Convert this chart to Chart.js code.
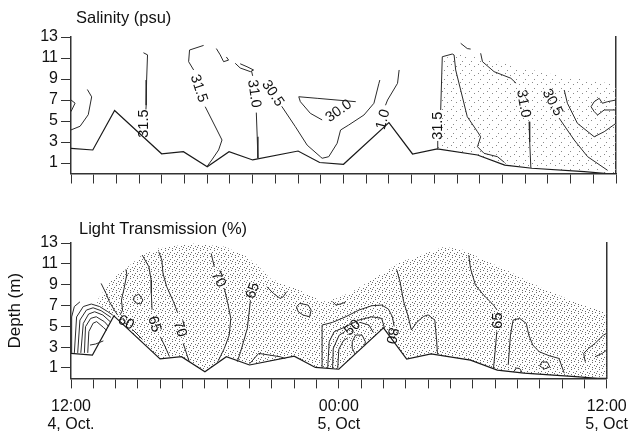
<!DOCTYPE html>
<html>
<head>
<meta charset="utf-8">
<script src="https://cdn.jsdelivr.net/npm/chart.js@4.4.1/dist/chart.umd.min.js"></script>
<style>
html, body { margin: 0; padding: 0; background: #fff; }
#wrap { position: relative; width: 637px; height: 439px; }
canvas { position: absolute; left: 0; }
#salinity { top: 0; }
#light { top: 200px; }
</style>
</head>
<body>
<div id="wrap">
  <canvas id="salinity" width="637" height="190"></canvas>
  <canvas id="light" width="637" height="239"></canvas>
</div>
<script>
"use strict";
const FONT = '"Liberation Sans", Arial, Helvetica, sans-serif';

// sea bed under the section (hours after 12:00 4 Oct, depth m)
const bedHours = [0, 0.96, 1.92, 3.99, 4.95, 6.0, 6.96, 8.0, 10.0, 10.95, 12.0, 14.0, 15.04, 16.13, 17.9, 19.1, 20.3, 22.6, 23.6, 24];
const bedDepth = [2.4, 2.24, 6.0, 1.88, 2.08, 0.64, 2.08, 1.29, 2.14, 1.05, 0.88, 4.85, 1.86, 2.35, 1.76, 0.8, 0.5, 0.17, 0.0, 0.0];

const depthTicks = [1, 3, 5, 7, 9, 11, 13];
const timeTickHours = [0, 12, 24];
const timeTickText = [["12:00", "4, Oct."], ["00:00", "5, Oct"], ["12:00", "5, Oct"]];

// ---- salinity contours: [hour, depth], null = gap for the label
const salA = [[0, 7.0], [0.18, 6.7], [0, 5.9]];
const salB = [[0.72, 8.0], [0.91, 7.3], [0.76, 5.6], [0.4, 4.5], [0, 4.15]];
const sal315a = [[3.19, 11.5], [3.37, 11.3], [3.33, 8.9], [3.31, 6.5], [3.3, 6.1], null, [3.15, 3.5]];
const sal315b = [[5.84, 12.2], [5.22, 11.76], [5.18, 10.65], [5.4, 9.86], null, [5.91, 6.36], [6.43, 4.14], [6.65, 3.19], [6.5, 2.24], [6.2, 1.29], [6.0, 0.7]];
const salHook1 = [[6.4, 11.9], [6.57, 11.3], [6.72, 10.65], [6.94, 10.8], [6.84, 11.1]];
const salHook2 = [[7.23, 10.5], [7.45, 10.05], [7.9, 9.7], [8.04, 9.86], [7.75, 10.17], [7.45, 10.45]];
const sal31a = [[7.95, 9.75], [8.0, 9.3], null, [8.16, 5.8], [8.2, 3.5], [8.23, 1.45]];
const sal305a = [[9.28, 6.4], [9.88, 4.46], [10.4, 2.7], [10.98, 1.6], [11.06, 1.45], [11.35, 1.6], [11.72, 2.88], [11.87, 4.14], [12.23, 4.62], [12.9, 5.57], [13.34, 6.69], [13.56, 8.59], [13.6, 8.9]];
const sal30 = [[11.06, 5.1], [10.54, 5.73], [10.1, 6.84], [10.03, 7.31], [10.84, 7.16], [12.54, 6.84]];
const sal1 = [[14.45, 9.86], [14.38, 8.59], [13.94, 7.0], [13.85, 6.5]];
const sal315c = [[16.13, 2.4], [16.15, 3.1], null, [16.28, 6.05], [16.35, 11.12], [16.79, 11.38], [16.87, 11.29], [16.94, 9.86], [17.16, 7.95], [17.45, 5.41], [17.9, 3.98], [18.04, 3.5], [17.9, 2.55], [18.19, 1.92], [18.78, 1.6], [19.09, 1.05]];
const salHook3 = [[17.16, 12.4], [17.45, 11.9], [17.6, 11.85]];
const sal31b = [[18.04, 11.45], [18.12, 10.65], [18.63, 9.7], [19.37, 9.07], [19.6, 8.6], null, [20.17, 4.93], [20.2, 3.0], [20.25, 0.55]];
const sal305b = [[20.69, 8.75], null, [21.5, 5.26], [22.16, 3.19], [22.75, 1.6], [23.63, 0.3]];
const salR1 = [[21.72, 7.95], [21.86, 6.69], [22.3, 4.78], [23.04, 3.5], [23.48, 3.98], [24, 4.78]];
const salR2 = [[24, 7.0], [23.63, 6.84], [23.4, 6.69], [23.26, 7.16], [23.04, 6.84], [22.9, 6.36], [23.04, 5.9], [23.19, 5.57], [23.48, 6.05], [24, 6.05]];
const salLines = [salA, salB, sal315a, sal315b, salHook1, salHook2, sal31a, sal305a, sal30, sal1, sal315c, salHook3, sal31b, sal305b, salR1, salR2];
const salLabels = [
  { text: "31.5", x: 3.22, y: 4.75, rot: -90 },
  { text: "31.5", x: 5.62, y: 8.1, rot: 72 },
  { text: "31.0", x: 8.06, y: 7.6, rot: 82 },
  { text: "30.5", x: 8.88, y: 7.63, rot: 56 },
  { text: "30.0", x: 11.79, y: 5.95, rot: -35 },
  { text: "1.0", x: 13.75, y: 5.15, rot: -75 },
  { text: "31.5", x: 16.16, y: 4.55, rot: -90 },
  { text: "31.0", x: 19.92, y: 6.65, rot: 80 },
  { text: "30.5", x: 21.2, y: 6.75, rot: 62 }
];
// stippled area: top edge, closed back along the sea bed from salShadeFrom
const salShadeHours = [16.3, 16.4, 17.2, 18.5, 20, 21.5, 23, 24];
const salShadeDepth = [6.0, 11.0, 11.3, 10.8, 10.0, 9.3, 8.8, 8.5];
const salShadeFrom = 16.13;

// ---- light transmission contours
const ltC1 = [[0.03, 2.45], [0.03, 5.9], [0.15, 6.9], [0.4, 7.35]];
const ltC2 = [[0.15, 2.45], [0.25, 5.9], [0.55, 6.9], [0.91, 7.14], [1.28, 6.9], [1.65, 6.4], [1.87, 6.08]];
const ltC3 = [[0.3, 2.45], [0.4, 5.6], [0.69, 6.56], [0.99, 6.78], [1.35, 6.5], [1.79, 5.86]];
const ltC4 = [[0.44, 2.45], [0.55, 5.28], [0.79, 6.18], [1.06, 6.4], [1.43, 6.08], [1.76, 5.44]];
const ltC5 = [[0.6, 2.45], [0.65, 4.96], [0.88, 5.76], [1.13, 5.92], [1.5, 5.44], [1.68, 5.0]];
const ltC6 = [[0.75, 2.45], [0.8, 4.5], [0.99, 5.3], [1.15, 5.45], [1.45, 4.9], [1.6, 4.6]];
const ltC7 = [[0.85, 3.2], [1.1, 3.3], [1.45, 3.6]];
const lt60a = [[1.35, 9.12], [1.57, 8.16], [1.72, 7.36], [1.94, 6.56], [2.09, 6.08]];
const lt60 = [[2.46, 10.47], [2.5, 10.0], [2.38, 8.64], [2.26, 7.52], [2.31, 6.56], [2.2, 6.1], null, [2.75, 4.7], [3.2, 3.75]];
const lt65a = [[3.19, 11.84], [3.49, 10.72], [3.59, 9.44], [3.6, 8.16], [3.63, 6.6], null, [4.0, 4.0], [4.22, 3.04], [4.41, 2.1]];
const lt70a = [[3.93, 12.16], [4.07, 11.36], [4.12, 10.08], [4.29, 8.8], [4.59, 7.36], [4.78, 6.3], null, [5.03, 3.36], [5.2, 2.24], [5.3, 1.6]];
const ltLoop1 = [[2.82, 7.84], [3.04, 8.1], [3.22, 7.52], [3.12, 7.14], [2.9, 7.26], [2.78, 7.58], [2.82, 7.84]];
const lt70b = [[6.28, 12.0], [6.35, 11.36], [6.42, 10.7], null, [6.87, 8.64], [7.01, 7.36], [7.16, 5.76], [7.09, 4.16], [6.87, 2.88], [6.6, 1.7]];
const lt65b = [[8.04, 7.5], [7.9, 4.8], [7.6, 2.57], [7.45, 1.6]];
const ltBump = [[8.0, 1.4], [8.41, 2.4], [9.37, 2.08], [9.6, 1.9]];
const ltHook4 = [[8.78, 8.8], [9.07, 8.16], [9.37, 7.68], [9.51, 7.84], [9.66, 8.32]];
const ltLoop2 = [[10.1, 6.88], [10.25, 7.2], [10.62, 7.04], [10.76, 6.56], [10.69, 5.92], [10.4, 6.08], [10.18, 6.4], [10.1, 6.88]];
const ltHook5 = [[11.72, 7.36], [11.87, 7.04], [12.17, 7.2], [12.31, 7.36]];
const lt80 = [[11.25, 1.0], [11.25, 5.12], [11.72, 5.38], [12.31, 5.92], [12.9, 6.56], [13.48, 6.98], [13.92, 7.04], [14.22, 6.66], [14.4, 5.92], [14.48, 5.0]];
const ltN2 = [[11.5, 0.95], [11.57, 3.52], [11.79, 4.48], [12.31, 4.96], [12.9, 5.6], [13.48, 5.92], [13.92, 5.76], [14.05, 4.8]];
const lt50 = [[11.72, 0.95], [11.75, 2.88], [12.02, 4.16], [12.25, 4.45], null, [12.95, 5.38], [13.35, 5.12], [13.55, 4.4]];
const ltN4 = [[11.95, 0.95], [12.0, 2.8], [12.2, 3.6], [12.4, 3.9]];
const ltU = [[12.7, 2.45], [12.6, 2.9], [12.6, 3.52], [12.75, 4.16], [13.04, 4.16], [13.19, 3.52], [13.15, 3.1]];
const ltMid = [[14.6, 10.4], [14.75, 9.2], [14.9, 7.4], [15.1, 6.0], [15.25, 4.65], [15.5, 5.4], [15.8, 5.95], [16.0, 6.1], [16.3, 5.6], [16.38, 3.7], [16.42, 2.35]];
const lt65c = [[17.82, 11.84], [17.9, 10.56], [18.12, 8.96], [18.49, 8.0], [18.93, 7.04], [19.08, 6.6], null, [19.08, 4.5], [19.0, 2.56], [18.93, 1.0]];
const ltR1 = [[19.59, 1.3], [19.69, 4.16], [19.81, 5.6], [20.1, 5.76], [20.4, 5.28], [20.51, 4.16], [20.69, 3.2], [20.98, 2.56], [21.42, 2.18], [21.86, 1.92], [22.0, 1.1], [22.1, 0.5]];
const ltLoop3 = [[21.0, 1.2], [21.1, 1.6], [21.35, 1.55], [21.45, 1.1], [21.2, 0.9], [21.0, 1.2]];
const ltBump2 = [[19.85, 0.68], [19.95, 1.0], [20.1, 0.95], [20.2, 0.62]];
const ltR2 = [[23.04, 1.6], [22.97, 2.4], [23.19, 2.88], [23.48, 3.36], [23.85, 4.16], [24, 4.32]];
const ltR3 = [[23.48, 2.08], [23.8, 2.4], [24, 2.72]];
const ltLines = [ltC1, ltC2, ltC3, ltC4, ltC5, ltC6, ltC7, lt60a, lt60, lt65a, lt70a, ltLoop1, lt70b, lt65b, ltBump, ltHook4, ltLoop2, ltHook5, lt80, ltN2, lt50, ltN4, ltU, ltMid, lt65c, ltR1, ltLoop3, ltBump2, ltR2, ltR3];
const ltLabels = [
  { text: "60", x: 2.46, y: 5.35, rot: 28 },
  { text: "65", x: 3.73, y: 5.2, rot: 75 },
  { text: "70", x: 4.88, y: 4.75, rot: 72 },
  { text: "70", x: 6.6, y: 9.5, rot: 62 },
  { text: "65", x: 8.15, y: 8.42, rot: -72 },
  { text: "50", x: 12.62, y: 4.85, rot: -42 },
  { text: "80", x: 14.37, y: 4.1, rot: 100 },
  { text: "65", x: 19.15, y: 5.55, rot: -90 }
];
const ltShadeHours = [1.13, 1.87, 2.46, 3.19, 3.92, 5.4, 6.87, 7.75, 8.34, 8.93, 10.39, 11.28, 11.87, 12.6, 13.34, 14.07, 14.8, 15.69, 16.72, 17.6, 18.49, 19.37, 20.25, 21.13, 22.0, 22.9, 24];
const ltShadeDepth = [7.36, 9.6, 10.56, 11.84, 12.48, 12.96, 12.64, 11.84, 10.88, 9.6, 8.32, 7.36, 7.68, 8.32, 9.28, 10.24, 11.2, 11.84, 12.64, 12.32, 11.36, 10.56, 9.6, 8.64, 7.84, 7.04, 6.3];
const ltShadeFrom = 1.92;

// stipple tiles for the shaded areas
function stipple(size, dots, color) {
  const c = document.createElement("canvas");
  c.width = size; c.height = size;
  const g = c.getContext("2d");
  g.fillStyle = color;
  dots.forEach(d => g.fillRect(d[0], d[1], 1, 1));
  return g.createPattern(c, "repeat");
}
const densePattern = stipple(7, [[0, 0], [4, 1], [2, 3], [6, 4], [1, 5], [4, 6]], "#6a6a6a");
const lightPattern = stipple(9, [[1, 1], [6, 3], [3, 7]], "#8a8a8a");

function toPoints(line) {
  return line.map((p, i) => p ? { x: p[0], y: p[1] } : { x: line[i - 1][0], y: null });
}

function shadePoints(hours, depth, fromHour) {
  const pts = hours.map((h, i) => ({ x: h, y: depth[i] }));
  for (let i = bedHours.length - 1; i >= 0; i--) {
    if (bedHours[i] >= fromHour) pts.push({ x: bedHours[i], y: bedDepth[i] });
  }
  return pts;
}

const contourLabels = {
  id: "contourLabels",
  afterDatasetsDraw(chart, args, opts) {
    const { ctx, chartArea } = chart;
    const xs = chart.scales.x, ys = chart.scales.y;
    ctx.save();
    ctx.fillStyle = "#111";
    ctx.font = "14.5px " + FONT;
    ctx.textAlign = "center";
    ctx.textBaseline = "middle";
    opts.items.forEach(l => {
      ctx.save();
      ctx.translate(xs.getPixelForValue(l.x), ys.getPixelForValue(l.y));
      ctx.rotate(l.rot * Math.PI / 180);
      ctx.fillText(l.text, 0, 0);
      ctx.restore();
    });
    ctx.font = "16.5px " + FONT;
    ctx.textAlign = "left";
    ctx.textBaseline = "alphabetic";
    ctx.fillText(opts.title, chartArea.left + opts.dx, chartArea.top - opts.dy);
    ctx.restore();
  }
};

function buildDatasets(lines, shadeHours, shadeDepth, shadeFrom, pattern) {
  const sets = lines.map(l => ({
    data: toPoints(l), showLine: true, borderColor: "#2a2a2a", borderWidth: 1,
    pointRadius: 0, fill: false, yAxisID: "y", order: 1
  }));
  sets.push({
    data: bedHours.map((h, i) => ({ x: h, y: bedDepth[i] })), showLine: true,
    borderColor: "#1a1a1a", borderWidth: 1.2, pointRadius: 0, fill: false, yAxisID: "y", order: 1
  });
  sets.push({
    data: shadePoints(shadeHours, shadeDepth, shadeFrom), showLine: true, fill: "shape",
    backgroundColor: pattern, borderWidth: 0, borderColor: "rgba(0,0,0,0)",
    pointRadius: 0, yAxisID: "y", order: 5
  });
  return sets;
}

function buildScales(showTime, xHeight, yTitle) {
  return {
    x: {
      type: "linear", min: 0, max: 24, position: "bottom",
      grid: { drawOnChartArea: false, tickLength: 10, color: "#333", lineWidth: 1 },
      border: { color: "#333", width: 1.5 },
      ticks: {
        display: showTime, stepSize: 1, autoSkip: false, maxRotation: 0, padding: 9,
        color: "#111", font: { family: FONT, size: 16, lineHeight: 1.15 },
        callback: v => { const i = timeTickHours.indexOf(v); return i >= 0 ? timeTickText[i] : ""; }
      },
      afterFit: s => { s.height = xHeight; }
    },
    y: {
      type: "linear", min: 0, max: 13, position: "left",
      afterBuildTicks: s => { s.ticks = depthTicks.map(v => ({ value: v })); },
      grid: { drawOnChartArea: false, tickLength: 10, color: "#333", lineWidth: 1 },
      border: { color: "#333", width: 1.5 },
      ticks: { padding: 3, color: "#111", font: { family: FONT, size: 16 } },
      title: yTitle
        ? { display: true, text: yTitle, color: "#111", font: { family: FONT, size: 17 }, padding: { top: 5.5, bottom: 0 } }
        : { display: false },
      afterFit: s => { s.width = 71; }
    },
    yR: {
      type: "linear", min: 0, max: 13, position: "right",
      ticks: { display: false },
      grid: { display: false, drawTicks: false },
      border: { display: true, color: "#333", width: 1.5 }
    }
  };
}

function makePanel(id, datasets, scales, padding, labelOpts) {
  return new Chart(document.getElementById(id), {
    type: "scatter",
    data: { datasets: datasets },
    options: {
      responsive: false,
      animation: false,
      devicePixelRatio: 1,
      layout: { padding: padding },
      plugins: { legend: { display: false }, tooltip: { enabled: false }, contourLabels: labelOpts },
      scales: scales
    },
    plugins: [contourLabels]
  });
}

makePanel("salinity",
  buildDatasets(salLines, salShadeHours, salShadeDepth, salShadeFrom, lightPattern),
  buildScales(false, 12, null),
  { top: 37, right: 21, bottom: 4.5, left: 0 },
  { items: salLabels, title: "Salinity (psu)", dx: 5, dy: 14.5 });

makePanel("light",
  buildDatasets(ltLines, ltShadeHours, ltShadeDepth, ltShadeFrom, densePattern),
  buildScales(true, 55, "Depth (m)"),
  { top: 43, right: 21, bottom: 5.6, left: 0 },
  { items: ltLabels, title: "Light Transmission (%)", dx: 8, dy: 9.5 });
</script>
</body>
</html>
